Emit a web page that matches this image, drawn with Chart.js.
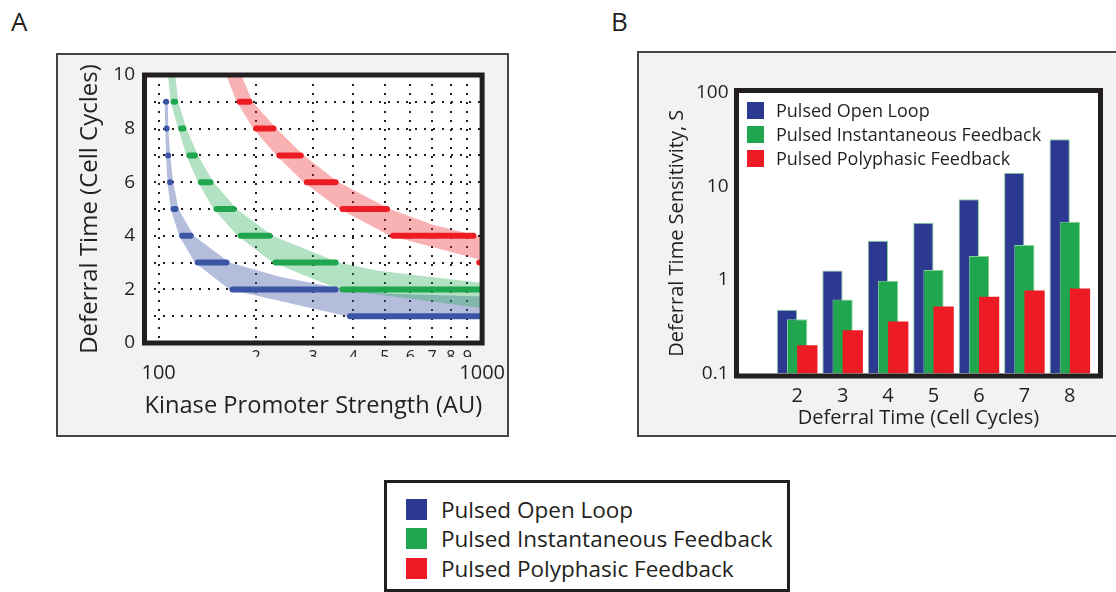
<!DOCTYPE html>
<html>
<head>
<meta charset="utf-8">
<title>Deferral time</title>
<script src="https://cdn.jsdelivr.net/npm/chart.js@4.4.0/dist/chart.umd.min.js"></script>
<style>
  body { margin: 0; width: 1116px; height: 592px; overflow: hidden; background: #fff;
         font-family: "Open Sans", sans-serif; color: #231f20; position: relative; }
  .panel { position: absolute; background: #f1f2f3; border: 2px solid #454545; box-sizing: border-box; }
  canvas { position: absolute; }
  .tag { position: absolute; font-size: 26px; line-height: 26px; }
  .legend { position: absolute; }
  .legend .row { display: flex; align-items: center; white-space: nowrap; }
  .legend .sw { flex: none; }
</style>
</head>
<body>
<div class="tag" style="left:11px;top:8px">A</div>
<div class="tag" style="left:611px;top:8px">B</div>

<div class="panel" style="left:56px;top:53px;width:453px;height:384px"></div>
<canvas id="chartA" width="453" height="384" style="left:56px;top:53px"></canvas>

<div class="panel" style="left:637px;top:51px;width:490px;height:386px"></div>
<canvas id="chartB" width="479" height="386" style="left:637px;top:51px"></canvas>
<div id="legendB" class="legend" style="left:747px;top:98px"></div>

<div id="legendMain" class="legend"
     style="left:384px;top:480px;width:406px;height:112px;border:3px solid #231f20;background:#fff;box-sizing:border-box;padding:12px 0 0 19px"></div>

<script>
const ink = '#231f20';

const seriesNames = ['Pulsed Open Loop', 'Pulsed Instantaneous Feedback', 'Pulsed Polyphasic Feedback'];

// --- panel A: promoter strength range giving each deferral time [deferral, from, to]
const openLoopSegs = [
  [9, 105.5, 105.7], [8, 105.9, 106.1], [7, 107.0, 107.2], [6, 108.5, 109.1], [5, 111.2, 112.8],
  [4, 118.2, 125.7], [3, 132.1, 162.2], [2, 169.2, 352.5], [1, 390.2, 1000]
];
const instantSegs = [
  [9, 111.2, 112.5], [8, 117.4, 119.3], [7, 124.5, 129.5], [6, 135.1, 144.7], [5, 151.0, 170.6],
  [4, 179.4, 220.3], [3, 229.8, 352.5], [2, 370.3, 1000]
];
const polyphasicSegs = [
  [9, 178.0, 190.9], [8, 200.2, 226.5], [7, 236.2, 275.1], [6, 287.0, 352.5], [5, 370.3, 508.1],
  [4, 530.1, 939.9], [3, 980, 980]
];

// shaded ranges: lower edge and upper edge as [strength, deferral]
const openLoopLow = [[105.3, 9.05], [104.5, 9], [104.8, 8], [105.5, 7], [106.5, 6], [109, 5], [115.7, 4],
  [129.3, 3], [165.7, 2], [382, 1], [1100, 0.93]];
const openLoopHigh = [[106.7, 9], [107.2, 8], [108.6, 7], [111, 6], [115.2, 5], [128.4, 4], [165.7, 3],
  [240, 2.45], [360, 2.05], [500, 1.85], [1100, 1.72]];
const instantLow = [[106.3, 10.4], [108.9, 9], [114.9, 8], [121.9, 7], [132.3, 6], [147.8, 5], [175.6, 4],
  [225, 3], [362.5, 2], [1100, 1.24]];
const instantHigh = [[111.8, 10.4], [114.9, 9], [121.9, 8], [132.3, 7], [147.8, 6], [174.3, 5], [225, 4],
  [360, 3], [478, 2.7], [1100, 2.18]];
const polyphasicLow = [[158, 10.3], [174.3, 9], [196, 8], [231.3, 7], [281, 6], [362.5, 5], [519, 4],
  [1100, 2.95]];
const polyphasicHigh = [[176, 10.3], [195, 9], [231.3, 8], [281, 7], [360, 6], [519, 5], [700, 4.42],
  [960, 4], [1100, 3.9]];

const strengthTicks = [100, 200, 300, 400, 500, 600, 700, 800, 900, 1000];
const strengthMinorLabels = ['', '2', '3', '4', '5', '6', '7', '8', '9', ''];
const strengthDecades = [100, 1000];

// --- panel B: deferral time sensitivity S
const deferralTimes = [2, 3, 4, 5, 6, 7, 8];
const openLoopS = [0.48, 1.26, 2.63, 4.1, 7.3, 14.0, 32.0];
const instantS = [0.38, 0.62, 0.98, 1.28, 1.81, 2.37, 4.2];
const polyphasicS = [0.2, 0.29, 0.36, 0.52, 0.66, 0.77, 0.81];
const sensitivityTicks = [0.1, 1, 10, 100];

const lineColors = ['#3a55a5', '#1fa64f', '#ed1c24'];
const bandColors = ['rgba(57,83,164,0.38)', 'rgba(30,166,80,0.34)', 'rgba(237,28,36,0.34)'];
const barColors = ['#2b3990', '#1fa64f', '#ed1c24'];

Chart.defaults.font.family = '"Open Sans", sans-serif';
Chart.defaults.color = ink;

// white plot area plus the heavy black box around it
const framePlugin = {
  id: 'frame',
  beforeDraw(chart) {
    const { ctx, chartArea: a } = chart;
    ctx.save();
    ctx.fillStyle = '#fff';
    ctx.fillRect(a.left, a.top, a.width, a.height);
    ctx.restore();
  },
  afterDraw(chart, args, opts) {
    const { ctx, chartArea: a } = chart;
    const o = opts.outside ? 2.5 : 0;
    ctx.save();
    ctx.strokeStyle = ink;
    ctx.lineWidth = 5;
    ctx.strokeRect(a.left - o, a.top - o, a.width + 2 * o, a.height + 2 * o);
    ctx.restore();
  }
};

// overlapping bars: later series must sit on top of earlier ones
const overlapOrder = {
  id: 'overlapOrder',
  beforeDatasetDraw() { return false; },
  afterDatasetsDraw(chart) {
    const { ctx, chartArea: a } = chart;
    ctx.save();
    ctx.beginPath();
    ctx.rect(a.left, a.top, a.width, a.height);
    ctx.clip();
    chart.data.datasets.forEach((d, i) => chart.getDatasetMeta(i).controller.draw());
    ctx.restore();
  }
};

function segmentPoints(segs) {
  const pts = [];
  segs.forEach(([y, from, to]) => {
    pts.push({ x: from, y }, { x: to, y }, { x: to, y: null });
  });
  return pts;
}

function bandPoints(low, high) {
  return low.concat(high.slice().reverse()).map(([x, y]) => ({ x, y }));
}

function segmentSet(segs, color) {
  return {
    data: segmentPoints(segs), showLine: true, spanGaps: false,
    borderColor: color, borderWidth: 6, borderCapStyle: 'round', pointRadius: 0
  };
}

function bandSet(low, high, color) {
  return {
    data: bandPoints(low, high), showLine: true, fill: 'shape',
    backgroundColor: color, borderColor: 'rgba(0,0,0,0)', borderWidth: 0, pointRadius: 0
  };
}

new Chart(document.getElementById('chartA'), {
  type: 'scatter',
  data: {
    datasets: [
      segmentSet(polyphasicSegs, lineColors[2]),
      segmentSet(instantSegs, lineColors[1]),
      segmentSet(openLoopSegs, lineColors[0]),
      bandSet(polyphasicLow, polyphasicHigh, bandColors[2]),
      bandSet(instantLow, instantHigh, bandColors[1]),
      bandSet(openLoopLow, openLoopHigh, bandColors[0])
    ]
  },
  options: {
    responsive: false,
    animation: false,
    events: [],
    layout: { padding: { left: 0, top: 22, right: 25, bottom: 16 } },
    plugins: { legend: { display: false }, tooltip: { enabled: false }, frame: { outside: false } },
    scales: {
      x: {
        type: 'logarithmic', position: 'bottom', weight: 1, bounds: 'data',
        min: 90.45, max: 1000,
        afterBuildTicks: s => { s.ticks = strengthTicks.map(v => ({ value: v })); },
        afterFit: s => { s.height = 14; },
        ticks: {
          autoSkip: false, maxRotation: 0, padding: 5, font: { size: 16 },
          callback: (v, i) => strengthMinorLabels[i]
        },
        grid: { color: ink, lineWidth: 2, drawTicks: false },
        border: { display: false, dash: [2, 7] }
      },
      x2: {
        type: 'logarithmic', position: 'bottom', weight: 2, bounds: 'data',
        min: 90.45, max: 1000,
        afterBuildTicks: s => { s.ticks = strengthDecades.map(v => ({ value: v })); },
        afterFit: s => { s.height = 64; },
        ticks: { autoSkip: false, maxRotation: 0, padding: 4, font: { size: 20 }, callback: v => String(v) },
        grid: { display: false, drawTicks: false },
        border: { display: false },
        title: { display: true, text: 'Kinase Promoter Strength (AU)', font: { size: 24.5 }, padding: 0 }
      },
      y: {
        min: 0, max: 10,
        afterFit: s => { s.width = 88.5; },
        ticks: { stepSize: 1, padding: 9.5, font: { size: 19 }, callback: v => (v % 2 === 0 ? v : '') },
        grid: { color: ink, lineWidth: 2, drawTicks: false },
        border: { display: false, dash: [2, 7] },
        title: { display: true, text: 'Deferral Time (Cell Cycles)', font: { size: 24 }, padding: { top: 20, bottom: 0 } }
      }
    }
  },
  plugins: [framePlugin]
});

const sensSeries = [openLoopS, instantS, polyphasicS];

new Chart(document.getElementById('chartB'), {
  type: 'bar',
  data: {
    datasets: sensSeries.map((vals, k) => ({
      label: seriesNames[k],
      data: vals.map((v, i) => ({ x: deferralTimes[i], y: v })),
      backgroundColor: barColors[k],
      borderColor: k < 2 ? '#86d39a' : barColors[k],
      borderWidth: k < 2 ? 1 : 0,
      categoryPercentage: 0.67,
      barPercentage: 2.0
    }))
  },
  options: {
    responsive: false,
    animation: false,
    events: [],
    layout: { padding: { left: 0, top: 42, right: 18, bottom: 6.7 } },
    plugins: { legend: { display: false }, tooltip: { enabled: false }, frame: { outside: true } },
    scales: {
      x: {
        type: 'linear', offset: false, bounds: 'data', min: 0.72, max: 8.62,
        afterBuildTicks: s => { s.ticks = deferralTimes.map(v => ({ value: v })); },
        afterFit: s => { s.height = 56.8; },
        ticks: { autoSkip: false, maxRotation: 0, padding: 10.5, font: { size: 20 }, callback: v => String(v) },
        grid: { display: false, drawTicks: false },
        border: { display: false },
        title: { display: true, text: 'Deferral Time (Cell Cycles)', font: { size: 20 }, padding: 0 }
      },
      y: {
        type: 'logarithmic', bounds: 'data', min: 0.1, max: 100,
        afterBuildTicks: s => { s.ticks = sensitivityTicks.map(v => ({ value: v })); },
        afterFit: s => { s.width = 102; },
        ticks: { padding: 10.5, font: { size: 19 }, callback: v => String(v) },
        grid: { display: false, drawTicks: false },
        border: { display: false },
        title: { display: true, text: 'Deferral Time Sensitivity, S', font: { size: 20 }, padding: { top: 28, bottom: 0 } }
      }
    }
  },
  plugins: [framePlugin, overlapOrder]
});

// legends: the small one inside panel B and the shared one below
function buildLegend(el, box, gap, rowH, fontSize) {
  seriesNames.forEach((name, i) => {
    const row = document.createElement('div');
    row.className = 'row';
    row.style.height = rowH + 'px';
    row.style.fontSize = fontSize + 'px';
    const sw = document.createElement('span');
    sw.className = 'sw';
    sw.style.cssText = `width:${box}px;height:${box}px;background:${barColors[i]};margin-right:${gap}px`;
    row.appendChild(sw);
    row.appendChild(document.createTextNode(name));
    el.appendChild(row);
  });
}
buildLegend(document.getElementById('legendB'), 17, 12, 24.2, 18);
buildLegend(document.getElementById('legendMain'), 21, 14, 29.3, 22.5);
</script>
</body>
</html>
